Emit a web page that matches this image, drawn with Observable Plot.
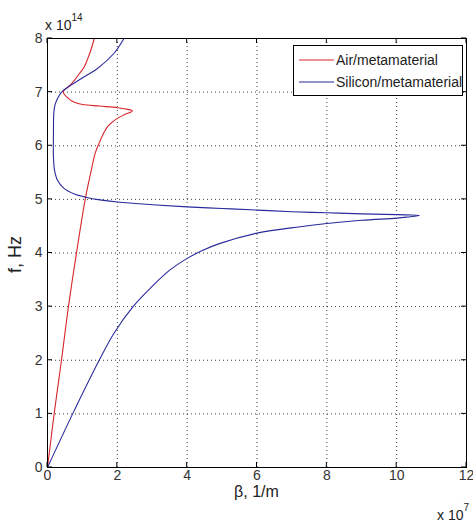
<!DOCTYPE html>
<html>
<head>
<meta charset="utf-8">
<script src="https://cdn.jsdelivr.net/npm/d3@7"></script>
<script src="https://cdn.jsdelivr.net/npm/@observablehq/plot@0.6"></script>
<style>
  html, body { margin: 0; padding: 0; background: #fff; }
  #chart svg { display: block; }
</style>
</head>
<body>
<div id="chart"></div>
<script>
// Air/metamaterial curve (beta in 1e7 1/m, f in 1e14 Hz), path order
const airBeta = [0, 0.19, 0.4, 0.6, 0.83, 1.08, 1.24, 1.36, 1.48, 1.62, 1.75, 2.0, 2.2, 2.43, 2.2, 2.0, 1.5, 1.0, 0.77, 0.64, 0.55, 0.48, 0.45, 0.52, 0.65, 0.77, 0.92, 1.05, 1.15, 1.24, 1.34];
const airF    = [0, 1, 2, 3, 4, 5, 5.5, 5.85, 6.05, 6.25, 6.38, 6.51, 6.58, 6.65, 6.69, 6.71, 6.74, 6.77, 6.81, 6.86, 6.91, 6.96, 7.01, 7.06, 7.13, 7.22, 7.35, 7.47, 7.62, 7.78, 8.0];

// Silicon/metamaterial curve, path order
const siBeta = [0, 0.72, 1.48, 1.9, 2.45, 3.0, 3.5, 4.0, 4.45, 4.9, 6.0, 7.24, 8.0, 9.0, 10.0, 10.3, 10.65, 10.0, 9.0, 8.0, 7.0, 6.0, 5.0, 4.0, 3.0, 2.0, 1.5, 1.1, 0.77, 0.48, 0.29, 0.2, 0.17, 0.17, 0.18, 0.21, 0.28, 0.35, 0.43, 0.58, 0.96, 1.43, 1.9, 2.19];
const siF    = [0, 1, 2, 2.5, 3.0, 3.38, 3.68, 3.9, 4.05, 4.17, 4.37, 4.49, 4.55, 4.61, 4.65, 4.67, 4.70, 4.715, 4.73, 4.75, 4.77, 4.8, 4.83, 4.86, 4.9, 4.95, 4.99, 5.04, 5.1, 5.2, 5.35, 5.55, 5.8, 6.2, 6.6, 6.75, 6.87, 6.95, 7.02, 7.09, 7.25, 7.44, 7.72, 8.0];

const xTicks = [0, 2, 4, 6, 8, 10, 12];
const yTicks = [0, 1, 2, 3, 4, 5, 6, 7, 8];
const seriesNames = ["Air/metamaterial", "Silicon/metamaterial"];
const seriesColors = ["#d8262c", "#2a2a9c"];
const xLabel = "β, 1/m";
const yLabel = "f, Hz";
const xExp = "7";
const yExp = "14";

const air = airBeta.map((b, i) => ({beta: b, f: airF[i]}));
const si = siBeta.map((b, i) => ({beta: b, f: siF[i]}));

const FONT = "'Liberation Sans', Arial, sans-serif";

const chart = Plot.plot({
  width: 473,
  height: 522,
  marginLeft: 47,
  marginRight: 7,
  marginTop: 38,
  marginBottom: 55,
  style: {fontFamily: FONT, background: "#fff", color: "#333"},
  x: {domain: [0, 12], label: null},
  y: {domain: [0, 8], label: null},
  marks: [
    Plot.gridX(xTicks, {stroke: "#000", strokeOpacity: 0.75, strokeDasharray: "1,3"}),
    Plot.gridY(yTicks, {stroke: "#000", strokeOpacity: 0.75, strokeDasharray: "1,3"}),
    Plot.line(air, {x: "beta", y: "f", stroke: seriesColors[0], strokeWidth: 1.1, curve: "catmull-rom"}),
    Plot.line(si, {x: "beta", y: "f", stroke: seriesColors[1], strokeWidth: 1.1, curve: "catmull-rom"}),
    Plot.frame({stroke: "#000", strokeWidth: 1}),
    Plot.axisX(xTicks, {anchor: "bottom", tickSize: 0, tickPadding: 3, fontSize: 14, label: null, tickFormat: d3.format("d")}),
    Plot.axisY(yTicks, {anchor: "left", tickSize: 0, tickPadding: 5, fontSize: 14, label: null, tickFormat: d3.format("d")})
  ]
});

document.getElementById("chart").appendChild(chart);

const svg = d3.select(chart);
const sx = chart.scale("x"), sy = chart.scale("y");
const x0 = sx.range[0], x1 = sx.range[1];
const y0 = sy.range[0], y1 = sy.range[1];
const tl = 5;
const g = svg.append("g").attr("stroke", "#000").attr("stroke-width", 1);
for (const t of xTicks) {
  const px = sx.apply(t);
  g.append("line").attr("x1", px).attr("x2", px).attr("y1", y0).attr("y2", y0 - tl);
  g.append("line").attr("x1", px).attr("x2", px).attr("y1", y1).attr("y2", y1 + tl);
}
for (const t of yTicks) {
  const py = sy.apply(t);
  g.append("line").attr("y1", py).attr("y2", py).attr("x1", x0).attr("x2", x0 + tl);
  g.append("line").attr("y1", py).attr("y2", py).attr("x1", x1).attr("x2", x1 - tl);
}

const txt = svg.append("g").attr("font-family", FONT).attr("fill", "#222").attr("text-anchor", "start");
// axis labels
txt.append("text").attr("x", (x0 + x1) / 2).attr("y", 497).attr("text-anchor", "middle")
  .attr("font-size", 16).text(xLabel);
txt.append("text").attr("transform", `translate(21,${(y0 + y1) / 2 + 2}) rotate(-90)`)
  .attr("text-anchor", "middle").attr("font-size", 18).text(yLabel);
// exponents
const e1 = txt.append("text").attr("x", 45).attr("y", 30).attr("font-size", 14);
e1.append("tspan").text("x 10");
e1.append("tspan").attr("dy", -9).attr("font-size", 10).text(yExp);
const e2 = txt.append("text").attr("x", 437).attr("y", 520).attr("font-size", 14);
e2.append("tspan").text("x 10");
e2.append("tspan").attr("dy", -9).attr("font-size", 10).text(xExp);

// legend
const lg = svg.append("g").attr("font-family", FONT).attr("text-anchor", "start");
lg.append("rect").attr("x", 293.5).attr("y", 45.5).attr("width", 169).attr("height", 50)
  .attr("fill", "#fff").attr("stroke", "#000").attr("stroke-width", 1);
const rows = [60, 82];
seriesNames.forEach((name, i) => {
  lg.append("line").attr("x1", 299).attr("x2", 334).attr("y1", rows[i]).attr("y2", rows[i])
    .attr("stroke", seriesColors[i]).attr("stroke-width", 1.1);
  lg.append("text").attr("x", 336).attr("y", rows[i] + 5).attr("font-size", 14)
    .attr("fill", "#222").text(name);
});
</script>
</body>
</html>
